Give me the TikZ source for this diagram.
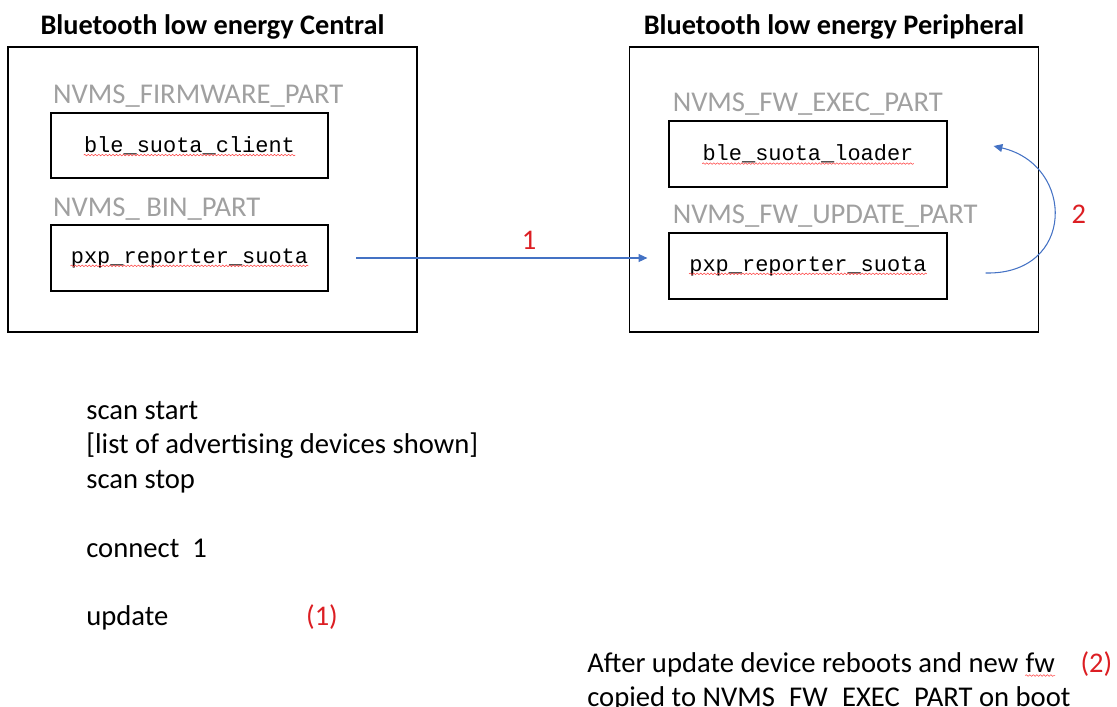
\documentclass[tikz,border=0pt]{standalone}
\usepackage{fontspec}
\setmainfont{Carlito}
\newfontfamily\codefont{Liberation Mono}
\usetikzlibrary{arrows.meta, positioning, decorations.pathmorphing}
\definecolor{flowblue}{RGB}{68,114,196}
\definecolor{stepred}{RGB}{220,30,35}
\definecolor{partgray}{RGB}{160,160,160}

\begin{document}
\begin{tikzpicture}[
        x=0.02cm, y=-0.02cm,
        device/.style={draw, line width=1pt, minimum width=8.18cm, minimum height=5.7cm},
        partbox/.style={draw, line width=1pt, minimum width=5.55cm, minimum height=1.31cm},
        code/.style={inner sep=0pt, font=\codefont\fontsize{12.5}{15}\selectfont},
        partlabel/.style={inner sep=0pt, anchor=base west, text=partgray, font=\fontsize{16.3}{19.35}\selectfont},
        devtitle/.style={inner sep=0pt, font=\bfseries\fontsize{16.1}{18}\selectfont},
        note/.style={inner sep=0pt, text height=11pt, text depth=4pt, font=\fontsize{16.3}{19.35}\selectfont},
        stepno/.style={inner sep=0pt, text=stepred, font=\fontsize{16.2}{19.35}\selectfont},
        flow/.style={-{Triangle[length=5pt, width=4.5pt]}, flowblue, line width=0.6pt},
        spellmark/.style={decorate, decoration={snake, amplitude=0.45pt, segment length=2pt}, red!75, line width=0.3pt},
    ]
    \useasboundingbox (0,0) rectangle (1117,707);

    % central side
    \node[device] (central) at (212.5,189.5) {};
    \node[devtitle, above=0.13cm of central] (centraltitle) {Bluetooth low energy Central};
    \node[partbox] (clientbox) at (189.5,145.5) {};
    \node[partbox] (imagebox)  at (189.5,258)   {};
    \node[partlabel] (fwpart)  at ([xshift=0.06cm,yshift=0.16cm]clientbox.north west) {NVMS\_FIRMWARE\_PART};
    \node[partlabel] (binpart) at ([xshift=0.06cm,yshift=0.16cm]imagebox.north west)  {NVMS\_ BIN\_PART};
    \node[code] (clienttxt) at (clientbox) {ble\_suota\_client};
    \node[code] (imagetxt)  at (imagebox)  {pxp\_reporter\_suota};

    % peripheral side
    \node[device] (peripheral) at (834,189.5) {};
    \node[devtitle, above=0.13cm of peripheral] (peripheraltitle) {Bluetooth low energy Peripheral};
    \node[partbox] (loaderbox) at (808,154) {};
    \node[partbox] (newfwbox)  at (808,266) {};
    \node[partlabel] (execpart)   at ([xshift=0.08cm,yshift=0.18cm]loaderbox.north west) {NVMS\_FW\_EXEC\_PART};
    \node[partlabel] (updatepart) at ([xshift=0.08cm,yshift=0.18cm]newfwbox.north west)  {NVMS\_FW\_UPDATE\_PART};
    \node[code] (loadertxt) at (loaderbox) {ble\_suota\_loader};
    \node[code] (newfwtxt)  at (newfwbox)  {pxp\_reporter\_suota};

    \foreach \t in {clienttxt, imagetxt, loadertxt, newfwtxt} {
        \draw[spellmark] ([yshift=-1.6pt]\t.base west) -- ([yshift=-1.6pt]\t.base east);
    }

    % transfers
    \draw[flow] ([xshift=0.54cm]imagebox.east) -- ([xshift=-0.42cm]newfwbox.west |- imagebox.east)
        node[stepno, pos=0.594, above=0.16cm] (flowone) {1};
    \draw[flow] ([shift={(0.76cm,-0.14cm)}]newfwbox.east) .. controls +(1.8cm,-0.04cm) and +(1.64cm,-0.38cm) .. ([shift={(0.92cm,0.16cm)}]loaderbox.east)
        node[stepno, pos=0.52, right=0.34cm] (flowtwo) {2};

    % console steps
    \node[note, anchor=base west] (scanstart) at (86,419) {scan start};
    \node[note, below right=4.35pt and 0pt of scanstart.south west] (devlist) {{[}list of advertising devices shown]};
    \node[note, below right=4.35pt and 0pt of devlist.south west] (scanstop) {scan stop};
    \node[note, below right=23.7pt and 0pt of scanstop.south west] (connect) {connect\ \ 1};
    \node[note, below right=23.7pt and 0pt of connect.south west] (updcmd) {update};
    \node[stepno, base right=2.74cm of updcmd] (updmark) {(1)};

    % after reboot
    \node[note, anchor=base west] (rebootnote) at (587,672) {After update device reboots and new};
    \node[note, base right=3.7pt of rebootnote] (newfw) {fw};
    \node[stepno, base right=0.5cm of newfw] (rebootmark) {(2)};
    \node[note, below right=4.35pt and 0pt of rebootnote.south west] (copynote) {copied to NVMS\_FW\_EXEC\_PART on boot};
    \draw[spellmark] ([yshift=-2pt]newfw.base west) -- ([yshift=-2pt]newfw.base east);
\end{tikzpicture}
\end{document}
